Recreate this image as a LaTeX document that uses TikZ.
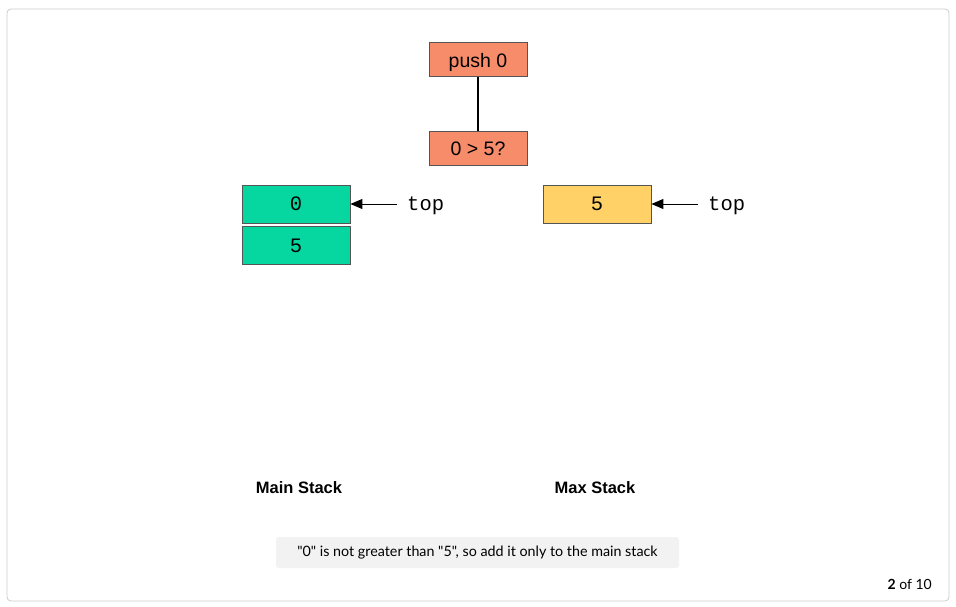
\documentclass[tikz,border=0pt]{standalone}
\usepackage{fontspec}
\setmainfont{Liberation Sans}
\newfontfamily\monofont{Liberation Mono}
\newfontfamily\capfont{Lato}
\usetikzlibrary{arrows.meta}
\definecolor{salmon}{HTML}{F78C6B}
\definecolor{mint}{HTML}{06D6A0}
\definecolor{sun}{HTML}{FFD166}
\definecolor{edge}{HTML}{555555}
\tikzset{
  opbox/.style={draw=edge, fill=salmon, line width=0.8pt, minimum width=98pt, minimum height=34pt, inner sep=0pt, text height=17pt, text depth=1pt, font=\fontsize{19.5}{21}\selectfont},
  cell/.style={draw=edge, line width=0.8pt, minimum width=108pt, minimum height=38pt, inner sep=0pt, text height=15pt, text depth=1pt, font=\monofont\fontsize{20.5}{22}\selectfont},
  toplabel/.style={anchor=west, inner sep=0pt, font=\monofont\fontsize{20.5}{22}\selectfont},
  ptr/.style={-{Triangle[length=12pt,width=10pt]}, line width=1pt},
  title/.style={font=\bfseries\fontsize{16.5}{18}\selectfont},
}
\begin{document}
\begin{tikzpicture}[x=1pt,y=-1pt]
\useasboundingbox (0,0) rectangle (956,607);
\fill[white] (0,0) rectangle (956,607);
\draw[draw=black!20, line width=0.8pt, rounded corners=4pt] (7,9) rectangle (949,601);
\node[opbox] (push) at (478,59.5) {push 0};
\node[opbox] (cmp) at (478,148) {0 > 5?};
\draw[line width=1.2pt] (push.south) -- (cmp.north);
\node[cell, fill=mint] (m0) at (296,204) {0};
\node[cell, fill=mint] (m1) at (296,245) {5};
\node[toplabel] (mtop) at (407,206) {top};
\coordinate (mtail) at (397,204);
\draw[ptr] (mtail) -- (m0.east);
\node[cell, fill=sun] (x0) at (597,204) {5};
\node[toplabel] (xtop) at (708,206) {top};
\coordinate (xtail) at (698,204);
\draw[ptr] (xtail) -- (x0.east);
\node[title] (mt) at (299,488) {Main Stack};
\node[title] (xt) at (595,488) {Max Stack};
\node[fill=black!5, rounded corners=3pt, minimum width=403pt, minimum height=31pt, inner sep=0pt, font=\capfont\fontsize{14.3}{16}\selectfont] (cap) at (477.5,552.5) {"0" is not greater than "5", so add it only to the main stack};
\node[anchor=east, inner sep=0pt, font=\capfont\fontsize{14}{16}\selectfont] (pg) at (932,584) {\textbf{2} of 10};
\end{tikzpicture}
\end{document}
